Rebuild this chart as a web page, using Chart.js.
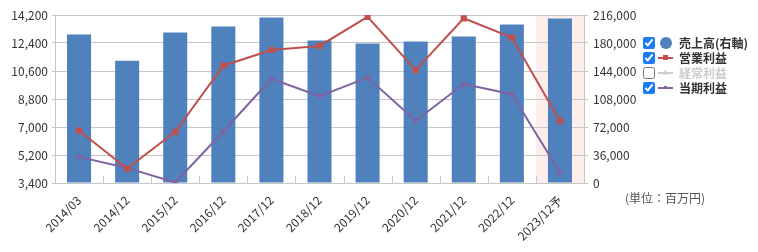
<!DOCTYPE html>
<html>
<head>
<meta charset="utf-8">
<script src="https://cdn.jsdelivr.net/npm/chart.js@4"></script>
<style>
  body{margin:0;background:#fff;font-family:"Noto Sans CJK JP","Noto Sans",sans-serif;}
  #wrap{position:relative;width:758px;height:252px;}
  #legend{position:absolute;left:643px;top:35px;font-size:12px;font-weight:bold;color:#333;}
  .row{display:flex;align-items:center;height:15px;}
  .row input{margin:0;width:12px;height:12px;accent-color:#1a7cf5;}
  .sym{position:relative;width:15px;height:12px;margin-left:3px;margin-right:6px;}
  .sym .ln{position:absolute;left:0;right:0;top:5px;height:2px;}
  .sym .mk{position:absolute;left:5px;top:3px;width:5px;height:5px;}
  .sym .dot{position:absolute;left:2px;top:0;width:12px;height:12px;border-radius:50%;background:#4f81bd;}
  .off{color:#ccc;}
  #unit{position:absolute;left:625px;top:189px;font-size:12px;color:#555;}
</style>
</head>
<body>
<div id="wrap">
  <canvas id="c" width="758" height="252"></canvas>
  <div id="legend">
    <div class="row"><input type="checkbox" checked data-i="0"><span class="sym"><span class="dot"></span></span><span>売上高(右軸)</span></div>
    <div class="row"><input type="checkbox" checked data-i="1"><span class="sym"><span class="ln" style="background:#c0504d"></span><span class="mk" style="background:#c0504d"></span></span><span>営業利益</span></div>
    <div class="row off"><input type="checkbox"><span class="sym"><span class="ln" style="background:#ccc"></span><span class="mk" style="background:#ccc;clip-path:polygon(50% 0,100% 100%,0 100%)"></span></span><span>経常利益</span></div>
    <div class="row"><input type="checkbox" checked data-i="2"><span class="sym"><span class="ln" style="background:#8064a2"></span><span class="mk" style="background:#8064a2;left:6px;top:4px;width:3px;height:3px"></span></span><span>当期利益</span></div>
  </div>
  <div id="unit">(単位：百万円)</div>
</div>
<script>
// 決算期
const periods = ['2014/03','2014/12','2015/12','2016/12','2017/12','2018/12','2019/12','2020/12','2021/12','2022/12','2023/12予'];
// 売上高 (右軸)
const sales = [190800, 157200, 193400, 201100, 212800, 183100, 179200, 181800, 188200, 203700, 211500];
// 営業利益
const operatingProfit = [6760, 4330, 6690, 10940, 11950, 12210, 14080, 10660, 13990, 12750, 7390];
// 当期利益
const netProfit = [5080, 4370, 3430, 6710, 10100, 8980, 10180, 7400, 9760, 9110, 4070];

const leftTicks = {min: 3400, max: 14200, step: 1800};
const rightTicks = {min: 0, max: 216000, step: 36000};

const FONT = '"Noto Sans CJK JP","Noto Sans",sans-serif';
const GRID = '#c6c6c6';

// forecast column shading + small inner ticks on the x axis
const decor = {
  id: 'decor',
  beforeDraw(chart){
    const {ctx, chartArea: a, scales: {x}} = chart;
    const w = x.getPixelForValue(1) - x.getPixelForValue(0);
    const cx = x.getPixelForValue(periods.length - 1);
    ctx.save();
    ctx.fillStyle = '#fdeeed';
    ctx.fillRect(cx - w/2, a.top, w/2 + (a.right - cx), a.bottom - a.top);
    ctx.restore();
  },
  afterDraw(chart){
    const {ctx, chartArea: a, scales: {x}} = chart;
    const w = x.getPixelForValue(1) - x.getPixelForValue(0);
    ctx.save();
    ctx.strokeStyle = GRID; ctx.lineWidth = 1;
    for(let i = 1; i < periods.length; i++){
      const px = Math.round(x.getPixelForValue(i) - w/2) + 0.5;
      ctx.beginPath(); ctx.moveTo(px, a.bottom); ctx.lineTo(px, a.bottom - 7); ctx.stroke();
    }
    ctx.restore();
  }
};

const chart = new Chart(document.getElementById('c'), {
  type: 'bar',
  data: {
    labels: periods,
    datasets: [
      {label:'売上高(右軸)', data: sales, yAxisID:'y1', backgroundColor:'#4f81bd', barPercentage:0.5, categoryPercentage:1, order:3},
      {label:'営業利益', type:'line', data: operatingProfit, yAxisID:'y', borderColor:'#c0504d', backgroundColor:'#c0504d', borderWidth:2, pointStyle:'rect', pointRadius:3, tension:0, order:1},
      {label:'当期利益', type:'line', data: netProfit, yAxisID:'y', borderColor:'#8064a2', backgroundColor:'#8064a2', borderWidth:2, pointRadius:1.5, tension:0, order:2}
    ]
  },
  options: {
    responsive:false,
    animation:false,
    layout:{padding:{top:15, right:114, left:0, bottom:0}},
    plugins:{legend:{display:false}, tooltip:{enabled:true}},
    scales:{
      x:{
        grid:{display:false},
        border:{color:GRID},
        ticks:{color:'#333', font:{family:FONT, size:12}, maxRotation:45, minRotation:45, padding:2},
        afterFit(s){ s.height = 69; }
      },
      y:{
        position:'left', min:leftTicks.min, max:leftTicks.max,
        grid:{color:GRID, tickLength:3},
        border:{color:GRID},
        ticks:{stepSize:leftTicks.step, color:'#333', font:{family:FONT, size:12}, padding:4,
          callback:v => v.toLocaleString('en-US')},
        afterFit(s){ s.width = 55; }
      },
      y1:{
        position:'right', min:rightTicks.min, max:rightTicks.max,
        grid:{drawOnChartArea:false, color:GRID, tickLength:4},
        border:{color:GRID},
        ticks:{stepSize:rightTicks.step, color:'#333', font:{family:FONT, size:12}, padding:5,
          callback:v => v.toLocaleString('en-US')},
        afterFit(s){ s.width = 60; }
      }
    }
  },
  plugins:[decor]
});

document.querySelectorAll('#legend input[data-i]').forEach(cb => {
  cb.addEventListener('change', () => {
    chart.setDatasetVisibility(+cb.dataset.i, cb.checked);
    chart.update();
  });
});
</script>
</body>
</html>
